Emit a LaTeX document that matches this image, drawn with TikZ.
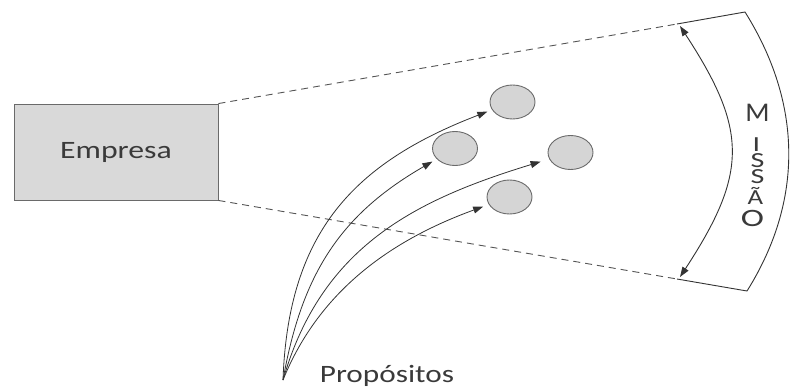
\documentclass[tikz,border=0pt]{standalone}
\usepackage{graphicx,xcolor}
\usepackage{fontspec}
\setmainfont{Carlito}
\usepackage{tikz}
\usetikzlibrary{arrows.meta,positioning,shapes.geometric}
\definecolor{inkgray}{HTML}{333333}
\definecolor{dashgray}{HTML}{555555}
\definecolor{boxfill}{HTML}{D9D9D9}
\definecolor{dotfill}{HTML}{D5D5D5}
\definecolor{edgegray}{HTML}{6A6A6A}
\definecolor{txtgray}{HTML}{3A3A3A}
\newcommand{\wide}[2][1.4]{\scalebox{#1}[1]{#2}}

\begin{document}
\begin{tikzpicture}[x=1pt,y=1pt,
company/.style={draw=edgegray,fill=boxfill,line width=.9pt,minimum width=204pt,minimum height=96pt,inner sep=0pt,text=txtgray,font=\fontsize{25}{30}\selectfont},
goal/.style={ellipse,draw=edgegray,fill=dotfill,line width=.9pt,minimum width=45pt,minimum height=34pt,inner sep=0pt},
lbl/.style={text=txtgray,font=\fontsize{25}{30}\selectfont,inner sep=0pt},
column/.style={text=txtgray,inner sep=0pt,align=center,font={\fontsize{21.5}{16}\selectfont\lineskiplimit=-100pt}},
arr/.style={-{Triangle[length=10pt,width=7pt]},line width=.8pt,draw=inkgray},
dbl/.style={{Triangle[length=10pt,width=7pt]}-{Triangle[length=10pt,width=7pt]},line width=.9pt,draw=inkgray},
guide/.style={dash pattern=on 7pt off 5pt,line width=.9pt,draw=dashgray}]
\useasboundingbox (0,0) rectangle (791,389);
\node[company](emp) at (116,237){\scalebox{1.27}[1]{Empresa}};
\node[goal](g1) at (512.5,287){};
\node[goal](g2) at (455,240.5){};
\node[goal](g3) at (570.5,236.5){};
\node[goal](g4) at (509.5,192){};
\coordinate (apex) at (283,9);
\node[lbl,anchor=base](prop) at (387,7){\scalebox{1.25}[1]{Propósitos}};
% mission band
\coordinate (mt) at (677,365);\coordinate (mb) at (677,110);
\coordinate (ot) at (745,377);\coordinate (ob) at (747,98);
\coordinate (it) at (680,363);\coordinate (ib) at (680,112);
\draw[guide](emp.north east)--(mt);\draw[guide](emp.south east)--(mb);
\draw[line width=.9pt,draw=inkgray](mt)--(ot).. controls (802,286) and (804,189) ..(ob)--(mb);
\draw[dbl](it).. controls (748,259) and (748,216) ..(ib);
\node[column,anchor=north](mission) at (757.5,285.5){{\fontsize{27}{16}\selectfont\wide[1.05]{M}}\\[14pt]
  \hspace*{-2pt}\wide{I}\\[.5pt]\wide{S}\\[-.5pt]\wide{S}\\[5.5pt]\hspace*{-4pt}\wide[1.25]{Ã}\\[6pt]
  \hspace*{-10pt}{\fontsize{25}{16}\selectfont\wide{O}}};
% purposes
\draw[arr,shorten >=5pt](apex) to[out=88,in=201,looseness=1.11](g1);
\draw[arr,shorten >=5pt](apex) to[out=80,in=210,looseness=1.04](g2);
\draw[arr,shorten >=9pt](apex) to[out=74,in=197,looseness=1.03](g3);
\draw[arr,shorten >=6pt](apex) to[out=68,in=200,looseness=.94](g4);
\end{tikzpicture}
\end{document}
